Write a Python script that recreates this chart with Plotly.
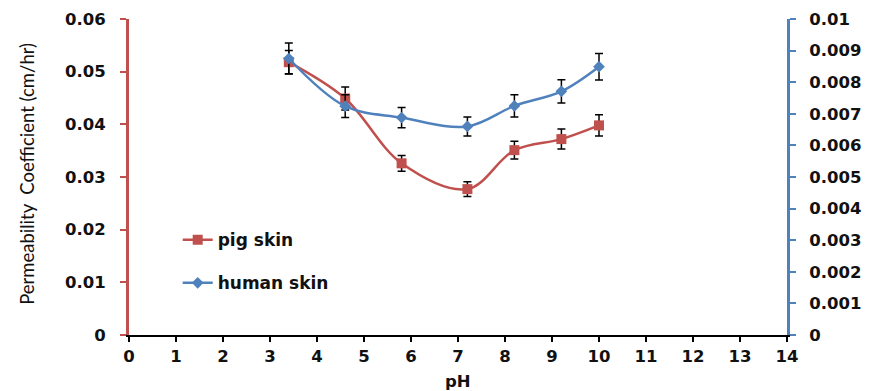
import plotly.graph_objects as go

ph = [3.4, 4.6, 5.8, 7.2, 8.2, 9.2, 10.0]
pig = [0.0518, 0.0449, 0.0326, 0.0277, 0.0351, 0.0372, 0.0398]
pig_err = [0.0022, 0.0022, 0.0015, 0.0014, 0.0017, 0.0019, 0.0020]
human = [0.00875, 0.00724, 0.00688, 0.00660, 0.00725, 0.00771, 0.00849]
human_err = [0.00049, 0.00036, 0.00032, 0.00030, 0.00035, 0.00037, 0.00042]

x_ticks = list(range(0, 15))
left_ticks = [0, 0.01, 0.02, 0.03, 0.04, 0.05, 0.06]
left_text = ["0", "0.01", "0.02", "0.03", "0.04", "0.05", "0.06"]
right_ticks = [0, 0.001, 0.002, 0.003, 0.004, 0.005, 0.006, 0.007, 0.008, 0.009, 0.01]
right_text = ["0", "0.001", "0.002", "0.003", "0.004", "0.005", "0.006", "0.007", "0.008", "0.009", "0.01"]

RED = "#C0504D"
BLUE = "#4F81BD"
TICKFONT = dict(family="DejaVu Sans", size=16.5, color="#111111", weight="bold")

fig = go.Figure()
fig.add_trace(go.Scatter(
    x=ph, y=pig, name="pig skin", mode="lines+markers", legendgroup="a",
    line=dict(color=RED, width=2.5, shape="spline", smoothing=1.0),
    marker=dict(symbol="square", size=10, color=RED),
    error_y=dict(type="data", array=pig_err, color="black", thickness=1.5, width=4),
    yaxis="y",
))
fig.add_trace(go.Scatter(
    x=ph, y=human, name="human skin", mode="lines+markers", legendgroup="b",
    line=dict(color=BLUE, width=2.5, shape="spline", smoothing=1.0),
    marker=dict(symbol="diamond", size=9, color=BLUE),
    error_y=dict(type="data", array=human_err, color="black", thickness=1.5, width=4),
    yaxis="y2",
))

fig.update_layout(
    width=871, height=391,
    margin=dict(l=129, r=84, t=19, b=56),
    paper_bgcolor="white", plot_bgcolor="white",
    showlegend=True,
    legend=dict(
        x=0.074, y=0.357, xanchor="left", yanchor="top",
        traceorder="grouped", tracegroupgap=18,
        font=dict(family="DejaVu Sans", size=17, color="#111111", weight="bold"),
        bgcolor="rgba(0,0,0,0)",
    ),
    xaxis=dict(
        range=[0, 14], tickvals=x_ticks, ticktext=[str(v) for v in x_ticks],
        showgrid=False, zeroline=False, automargin=False,
        showline=True, linecolor="black", linewidth=2,
        ticks="outside", ticklen=5, tickwidth=2, tickcolor="black",
        tickfont=TICKFONT,
    ),
    yaxis=dict(
        range=[0, 0.06], tickvals=left_ticks, ticktext=left_text,
        showgrid=False, zeroline=False, automargin=False,
        showline=True, linecolor=RED, linewidth=3,
        ticks="outside", ticklen=6, tickwidth=2, tickcolor=RED,
        tickfont=TICKFONT, ticklabelstandoff=11,
    ),
    yaxis2=dict(
        range=[0, 0.01], tickvals=right_ticks, ticktext=right_text,
        overlaying="y", side="right", anchor="x", automargin=False,
        showgrid=False, zeroline=False,
        showline=True, linecolor=BLUE, linewidth=3,
        ticks="outside", ticklen=6, tickwidth=2, tickcolor=BLUE,
        tickfont=TICKFONT, ticklabelstandoff=10,
    ),
    annotations=[
        dict(
            text="Permeability  Coefficient (cm/hr)", textangle=-90,
            xref="paper", yref="paper", x=-0.155, y=0.51,
            xanchor="center", yanchor="middle", showarrow=False,
            font=dict(family="Lato", size=18.5, color="#111111"),
        ),
        dict(
            text="pH", xref="paper", yref="paper", x=0.5, y=-0.146,
            xanchor="center", yanchor="middle", showarrow=False,
            font=dict(family="DejaVu Sans", size=16.5, color="#111111", weight="bold"),
        ),
    ],
)

fig.write_html("out.html")
